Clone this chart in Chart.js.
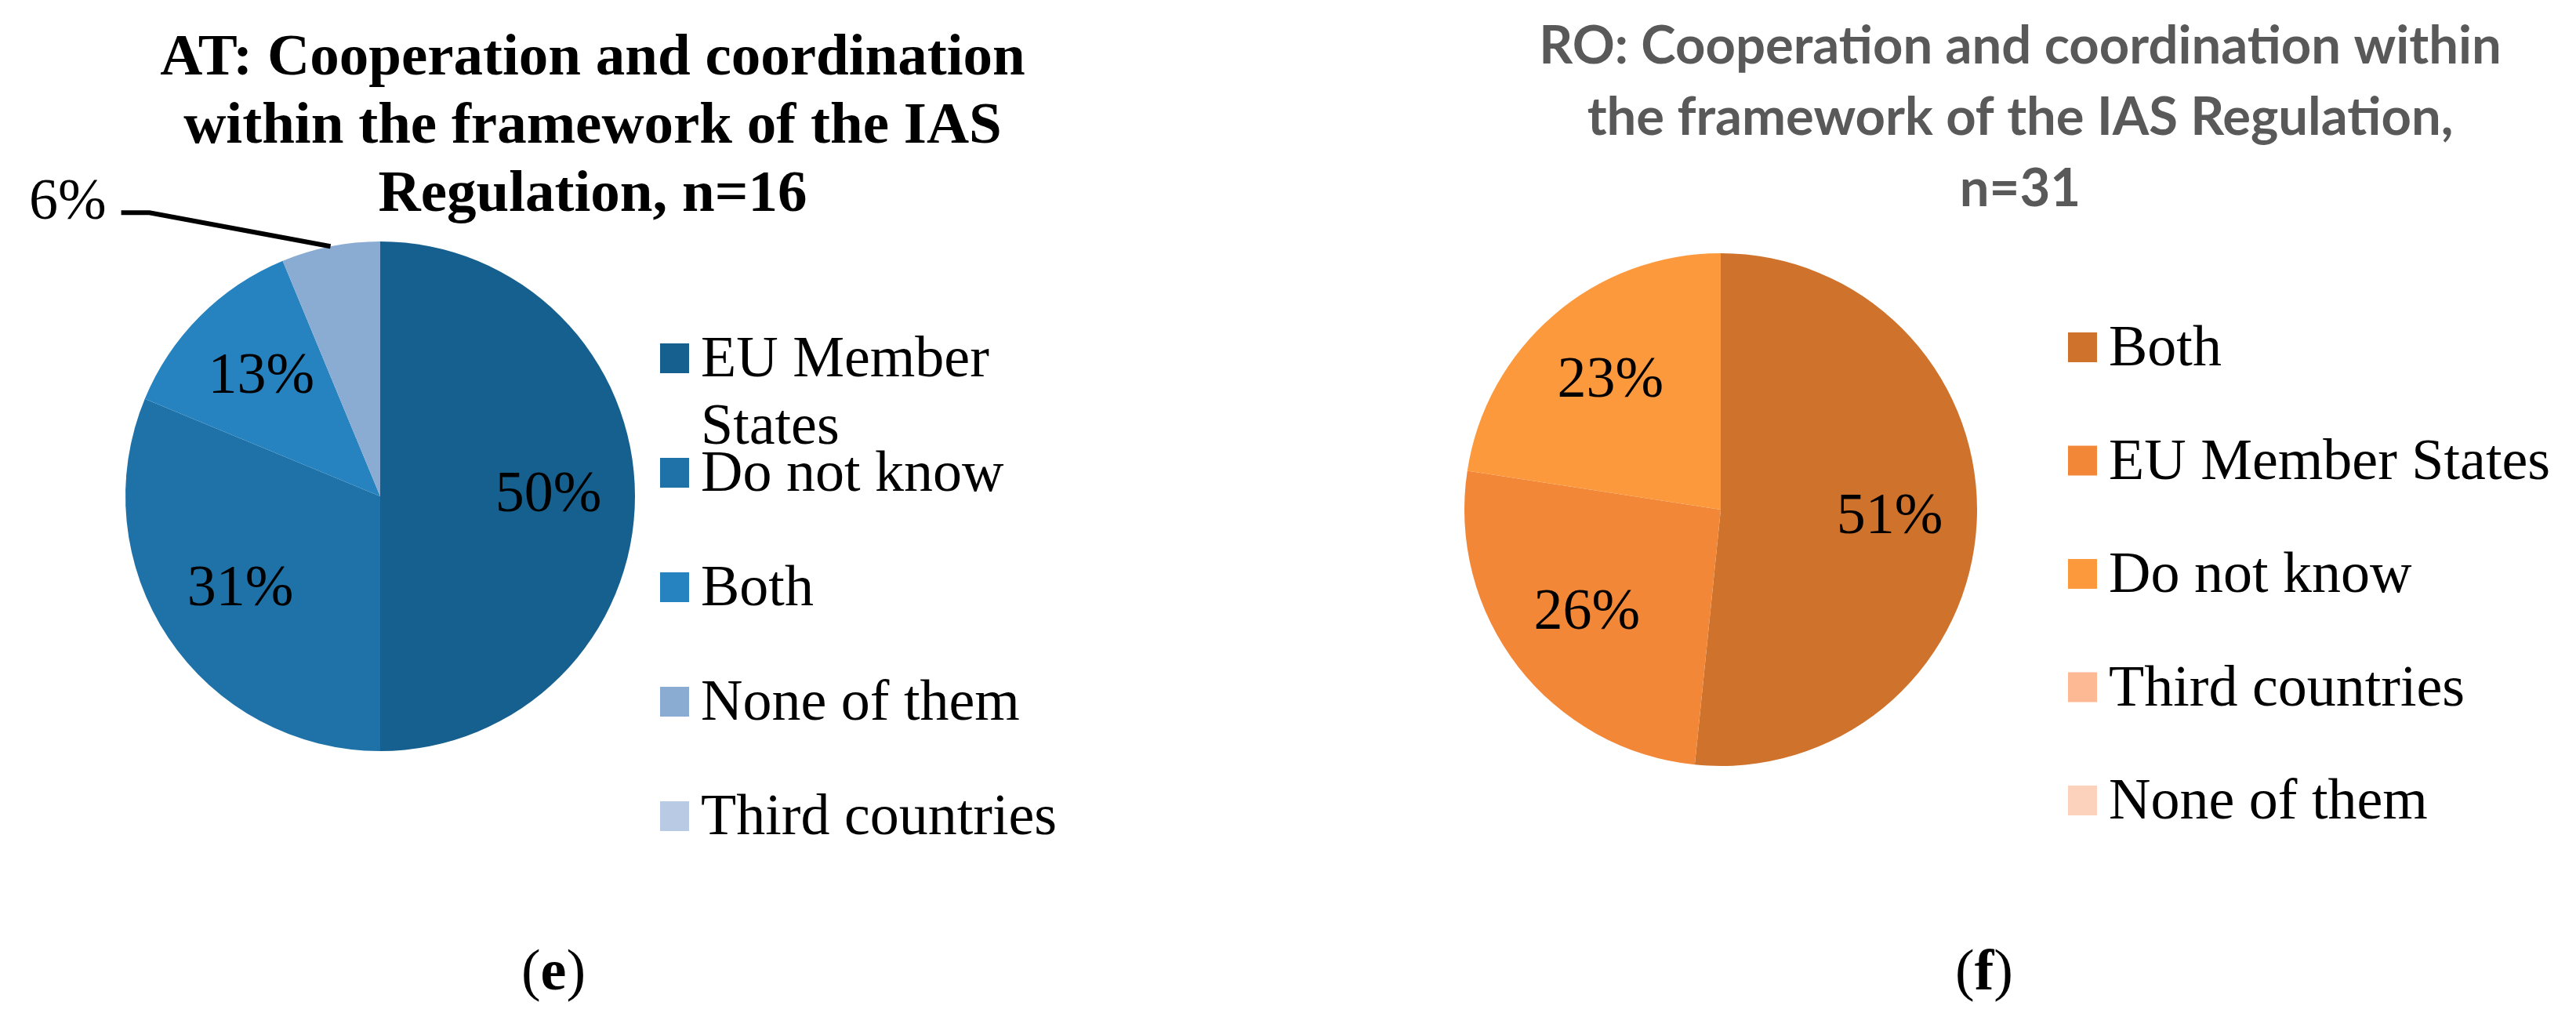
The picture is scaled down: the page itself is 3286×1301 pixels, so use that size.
<!DOCTYPE html>
<html>
<head>
<meta charset="utf-8">
<script src="https://cdn.jsdelivr.net/npm/chart.js@4/dist/chart.umd.min.js"></script>
<style>
  body { margin: 0; background: #fff; }
  .panel { position: absolute; top: 0; width: 1643px; height: 1301px; }
</style>
</head>
<body>
<div class="panel" style="left:0"><canvas id="chartAT" width="1643" height="1301"></canvas></div>
<div class="panel" style="left:1643px"><canvas id="chartRO" width="1643" height="1301"></canvas></div>
<script>
//Data (e) Austria, n=16
var atLabels = ["EU Member States", "Do not know", "Both", "None of them", "Third countries"];
var atCounts = [8, 5, 2, 1, 0];
var atPercent = [50, 31, 13, 6, 0];
var atColours = ["#15608f", "#1f72a8", "#2683c0", "#8bacd2", "#b9cbe4"];
var atTitle = ["AT: Cooperation and coordination", "within the framework of the IAS", "Regulation, n=16"];

//Data (f) Romania, n=31
var roLabels = ["Both", "EU Member States", "Do not know", "Third countries", "None of them"];
var roCounts = [16, 8, 7, 0, 0];
var roPercent = [51, 26, 23, 0, 0];
var roColours = ["#cf722b", "#f28737", "#fd993d", "#fdb894", "#fdd2bc"];
var roTitle = ["RO: Cooperation and coordination within", "the framework of the IAS Regulation,", "n=31"];

var serif = "'Liberation Serif', 'Times New Roman', serif";

//Ritar titel, procent, legend och bokstav
var panelPlugin = {
    id: "panelText",
    afterDraw: function (chart, args, o) {
        var ctx = chart.ctx;
        ctx.save();
        //Titel
        ctx.fillStyle = o.titleColor;
        ctx.font = o.titleFont;
        ctx.textAlign = "center";
        ctx.textBaseline = "alphabetic";
        o.title.forEach(function (line, i) {
            ctx.fillText(line, o.titleX, o.titleY + i * o.titleLine);
        });

        //Procent i tårtbitarna
        var meta = chart.getDatasetMeta(0);
        ctx.font = "74px " + serif;
        ctx.fillStyle = "#000";
        meta.data.forEach(function (arc, i) {
            var pct = o.percent[i];
            if (!pct) return;
            var p = arc.getProps(["x", "y", "startAngle", "endAngle", "outerRadius"], true);
            var mid = (p.startAngle + p.endAngle) / 2;
            if (pct < 10) {
                //Liten bit: text utanför med linje
                var ex = p.x + Math.cos(mid) * p.outerRadius;
                var ey = p.y + Math.sin(mid) * p.outerRadius;
                var kx = ex - 231, ky = ey - 43;
                ctx.strokeStyle = "#000";
                ctx.lineWidth = 6;
                ctx.beginPath();
                ctx.moveTo(ex, ey);
                ctx.lineTo(kx, ky);
                ctx.lineTo(kx - 36, ky);
                ctx.stroke();
                ctx.textAlign = "right";
                ctx.textBaseline = "alphabetic";
                ctx.fillText(pct + "%", kx - 55, ky + 8);
            } else {
                var r = p.outerRadius * 0.66;
                ctx.textAlign = "center";
                ctx.textBaseline = "middle";
                ctx.fillText(pct + "%", p.x + Math.cos(mid) * r, p.y + Math.sin(mid) * r);
            }
        });

        //Legend
        ctx.font = "74px " + serif;
        ctx.textAlign = "left";
        ctx.textBaseline = "alphabetic";
        var y = o.legendY;
        chart.data.labels.forEach(function (label, i) {
            ctx.fillStyle = chart.data.datasets[0].backgroundColor[i];
            ctx.fillRect(o.legendX, y - 42, 37, 38);
            ctx.fillStyle = "#000";
            var lines = o.wrap && o.wrap[label] ? o.wrap[label] : [label];
            lines.forEach(function (t, j) {
                ctx.fillText(t, o.legendX + 52, y + j * 86);
            });
            y += o.legendStep;
        });

        //Bokstav under diagrammet
        var parts = [["(", ""], [o.letter, "bold "], [")", ""]];
        var w = 0;
        parts.forEach(function (pt) { ctx.font = pt[1] + "74px " + serif; w += ctx.measureText(pt[0]).width; });
        var x = o.letterX - w / 2;
        parts.forEach(function (pt) {
            ctx.font = pt[1] + "74px " + serif;
            ctx.fillText(pt[0], x, 1262);
            x += ctx.measureText(pt[0]).width;
        });
        ctx.restore();
    }
};

function makePie(id, labels, counts, colours, pad, text) {
    return new Chart(document.getElementById(id).getContext("2d"), {
        type: "pie",
        data: {
            labels: labels,
            datasets: [{ data: counts, backgroundColor: colours, borderWidth: 0 }]
        },
        options: {
            responsive: false,
            animation: false,
            devicePixelRatio: 1,
            layout: { padding: pad },
            plugins: {
                legend: { display: false },
                title: { display: false },
                tooltip: { enabled: false },
                panelText: text
            }
        },
        plugins: [panelPlugin]
    });
}

makePie("chartAT", atLabels, atCounts, atColours,
    { left: 160, top: 308, right: 833, bottom: 343 },
    {
        title: atTitle, titleFont: "bold 75px " + serif, titleColor: "#000",
        titleX: 756, titleY: 95, titleLine: 87,
        percent: atPercent,
        legendX: 842, legendY: 480, legendStep: 146,
        wrap: { "EU Member States": ["EU Member", "States"] },
        letter: "e", letterX: 706
    });

makePie("chartRO", roLabels, roCounts, roColours,
    { left: 225, top: 323, right: 764, bottom: 324 },
    {
        title: roTitle, titleFont: "bold 67px Lato, 'Open Sans', sans-serif", titleColor: "#595959",
        titleX: 934, titleY: 81, titleLine: 91,
        percent: roPercent,
        legendX: 995, legendY: 466, legendStep: 144.5,
        letter: "f", letterX: 888
    });
</script>
</body>
</html>
